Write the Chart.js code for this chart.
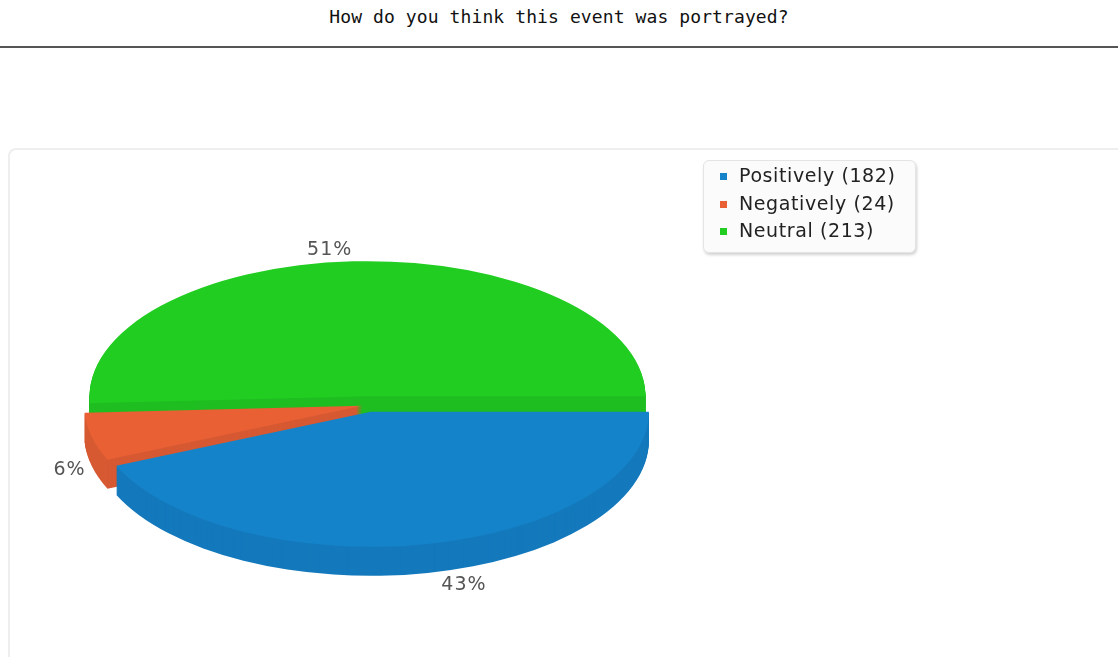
<!DOCTYPE html>
<html>
<head>
<meta charset="utf-8">
<script src="https://cdn.jsdelivr.net/npm/chart.js@4"></script>
<style>
  body { margin: 0; background: #fff; width: 1118px; height: 657px; overflow: hidden; position: relative; }
  #title { position: absolute; left: 0; top: 6px; width: 1118px; text-align: center;
           font: 18px "DejaVu Sans Mono", monospace; color: #111; letter-spacing: 0.1px; }
  #rule { position: absolute; left: 0; top: 46px; width: 1118px; height: 2px; background: #555; }
  #panel { position: absolute; left: 8px; top: 148px; width: 1200px; height: 600px;
           border: 2px solid #eee; border-radius: 8px; }
  #pie { position: absolute; left: 0; top: 0; }
  #legend { position: absolute; left: 703px; top: 160px; width: 211px; height: 91px;
            border: 1px solid #e4e4e4; border-radius: 6px; background: #fbfbfb;
            box-shadow: 1px 2px 3px rgba(0,0,0,0.18); }
  .item { position: absolute; left: 16px; height: 20px; font: 19px "DejaVu Sans", sans-serif; color: #222; }
  .item span.box { position: absolute; left: 0; top: 6px; width: 7px; height: 7px; }
  .item span.txt { position: absolute; left: 19px; top: -3px; white-space: nowrap; letter-spacing: 0.6px; }
</style>
</head>
<body>
<div id="title">How do you think this event was portrayed?</div>
<div id="rule"></div>
<div id="panel"></div>
<canvas id="pie" width="1118" height="657"></canvas>
<div id="legend"></div>
<script>
const categories = ["Positively", "Negatively", "Neutral"];
const counts = [182, 24, 213];
const percentLabels = ["43%", "6%", "51%"];
const topColors = ["#1583c9", "#e86034", "#21cd21"];
const sliceOffsets = [14, 6, 18];

const squash = 0.486;   // vertical flattening of the pie
const depth = 29;       // thickness of the pie, px

// legend
const legend = document.getElementById("legend");
categories.forEach((c, i) => {
  const row = document.createElement("div");
  row.className = "item";
  row.style.top = (6 + i * 27.5) + "px";
  row.innerHTML = '<span class="box" style="background:' + topColors[i] + '"></span>' +
                  '<span class="txt">' + c + ' (' + counts[i] + ')</span>';
  legend.appendChild(row);
});

// draw one slice flattened, pushed out along its middle angle and down by dy
function drawSlice(ctx, arc, i, dy) {
  const mid = (arc.startAngle + arc.endAngle) / 2;
  const off = sliceOffsets[i];
  ctx.save();
  ctx.translate(0, dy);
  ctx.translate(arc.x, arc.y);
  ctx.scale(1, squash);
  ctx.translate(-arc.x + off * Math.cos(mid), -arc.y + off * Math.sin(mid));
  arc.draw(ctx);
  ctx.restore();
}

const pie3d = {
  id: "pie3d",
  beforeDatasetsDraw(chart) {
    const ctx = chart.ctx;
    const arcs = chart.getDatasetMeta(0).data;
    // side walls: stacked copies of each slice
    for (let d = depth; d >= 1; d--) {
      arcs.forEach((arc, i) => drawSlice(ctx, arc, i, d));
    }
    // darken what is drawn so far (only the walls)
    ctx.save();
    ctx.globalCompositeOperation = "source-atop";
    ctx.fillStyle = "rgba(0,0,25,0.075)";
    ctx.fillRect(0, 0, chart.width, chart.height);
    ctx.restore();
    // top faces
    arcs.forEach((arc, i) => drawSlice(ctx, arc, i, 0));

    // percentage labels
    ctx.save();
    ctx.font = '19px "DejaVu Sans", sans-serif';
    ctx.letterSpacing = "1px";
    ctx.fillStyle = "#555";
    ctx.textBaseline = "middle";
    arcs.forEach((arc, i) => {
      const mid = (arc.startAngle + arc.endAngle) / 2;
      const off = sliceOffsets[i];
      const cos = Math.cos(mid), sin = Math.sin(mid);
      let x = arc.x + off * cos + (arc.outerRadius - 2) * cos;
      let y = arc.y + (off * sin + (arc.outerRadius + 22) * sin) * squash;
      if (sin > 0) y += depth + 2;
      if (cos < 0) { ctx.textAlign = "right"; x -= 8; } else { ctx.textAlign = "left"; x += 14; }
      ctx.fillText(percentLabels[i], x, y);
    });
    ctx.restore();
    return false;
  }
};

const chart = new Chart(document.getElementById("pie"), {
  type: "pie",
  data: {
    labels: categories,
    datasets: [{
      data: counts,
      backgroundColor: topColors,
      borderWidth: 0,
      clip: false
    }]
  },
  options: {
    responsive: false,
    animation: false,
    rotation: 90,
    radius: 278,
    layout: { padding: { left: 0, right: 382, top: 153, bottom: 0 } },
    plugins: { legend: { display: false }, tooltip: { enabled: false } }
  },
  plugins: [pie3d]
});
</script>
</body>
</html>
